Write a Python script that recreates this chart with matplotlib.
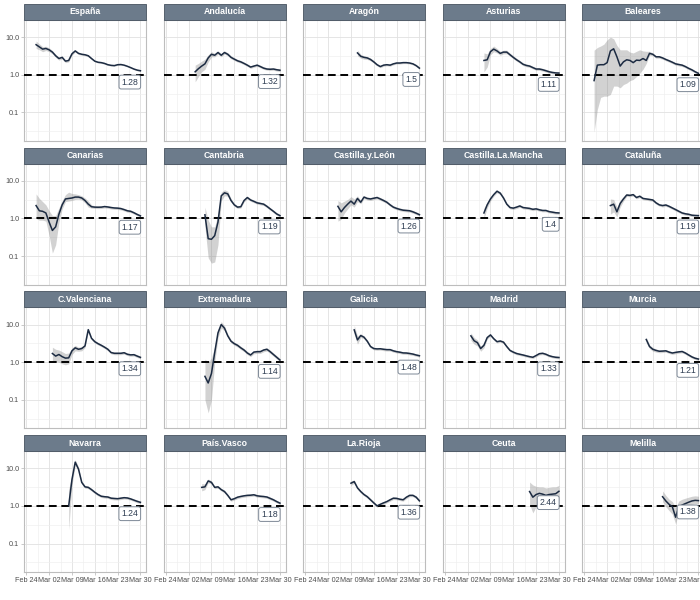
import matplotlib
matplotlib.use("Agg")
import matplotlib.pyplot as plt
import matplotlib.dates as mdates
from matplotlib.patches import Rectangle
from matplotlib.ticker import FixedLocator, NullFormatter
import pandas as pd

plt.rcParams['font.family'] = ['Liberation Sans', 'DejaVu Sans']

# panel order (facet_wrap, 5 columns)
REGIONS = ["España", "Andalucía", "Aragón", "Asturias", "Baleares",
           "Canarias", "Cantabria", "Castilla.y.León", "Castilla.La.Mancha", "Cataluña",
           "C.Valenciana", "Extremadura", "Galicia", "Madrid", "Murcia",
           "Navarra", "País.Vasco", "La.Rioja", "Ceuta", "Melilla"]

# first date of each estimated series (daily values follow)
FIRST_DAY = {
    "España": "2020-02-27", "Andalucía": "2020-03-04", "Aragón": "2020-03-11",
    "Asturias": "2020-03-07", "Baleares": "2020-02-27", "Canarias": "2020-02-27",
    "Cantabria": "2020-03-07", "Castilla.y.León": "2020-03-05",
    "Castilla.La.Mancha": "2020-03-07", "Cataluña": "2020-03-03",
    "C.Valenciana": "2020-03-03", "Extremadura": "2020-03-07", "Galicia": "2020-03-10",
    "Madrid": "2020-03-03", "Murcia": "2020-03-14", "Navarra": "2020-03-08",
    "País.Vasco": "2020-03-06", "La.Rioja": "2020-03-09", "Ceuta": "2020-03-21",
    "Melilla": "2020-03-19",
}

R_MEAN = {
    "España": [6.3, 5.5, 4.8, 5.0, 4.6, 4.0, 3.2, 2.7, 2.9, 2.3, 2.4, 3.6, 4.3, 3.7, 3.5, 3.4, 3.2,
               2.7, 2.3, 2.15, 2.1, 2.0, 1.85, 1.78, 1.75, 1.85, 1.87, 1.8, 1.68, 1.55, 1.42, 1.33, 1.28],
    "Andalucía": [1.2, 1.45, 1.7, 1.95, 2.8, 3.5, 3.3, 3.9, 3.3, 3.9, 3.5, 2.9, 2.6, 2.35, 2.2, 2.0,
                  1.8, 1.6, 1.7, 1.8, 1.65, 1.5, 1.42, 1.4, 1.42, 1.36, 1.32],
    "Aragón": [3.8, 3.1, 2.9, 2.8, 2.55, 2.2, 1.85, 1.65, 1.8, 1.85, 1.8, 1.95, 2.05, 2.05, 2.1,
               2.1, 2.05, 1.95, 1.75, 1.5],
    "Asturias": [2.4, 2.5, 4.1, 4.8, 4.3, 3.7, 4.0, 4.0, 3.4, 2.9, 2.5, 2.2, 1.9, 1.77, 1.7, 1.55,
                 1.42, 1.42, 1.36, 1.28, 1.2, 1.15, 1.12, 1.11],
    "Baleares": [0.7, 1.8, 1.85, 1.85, 2.1, 4.3, 4.9, 3.0, 1.7, 2.2, 2.5, 2.4, 2.1, 2.45, 2.4, 2.7,
                 2.4, 3.7, 3.5, 3.0, 3.0, 2.8, 2.55, 2.35, 2.15, 1.95, 1.87, 1.8, 1.65, 1.48, 1.35,
                 1.2, 1.09],
    "Canarias": [2.2, 1.6, 1.55, 1.4, 0.8, 0.48, 0.6, 1.3, 2.3, 3.3, 3.4, 3.5, 3.7, 3.7, 3.5, 3.0,
                 2.4, 2.05, 2.0, 1.99, 2.0, 2.07, 2.02, 1.95, 1.9, 1.88, 1.83, 1.72, 1.6, 1.55, 1.42,
                 1.28, 1.17],
    "Cantabria": [1.25, 0.29, 0.28, 0.35, 0.8, 4.0, 4.8, 4.5, 3.0, 2.3, 2.0, 2.05, 3.0, 3.6, 3.1,
                  2.85, 2.6, 2.5, 2.4, 2.1, 1.8, 1.55, 1.32, 1.19],
    "Castilla.y.León": [2.1, 1.5, 1.95, 2.4, 2.9, 2.4, 3.4, 2.7, 3.7, 3.4, 3.3, 3.45, 3.6, 3.3, 3.0,
                        2.7, 2.3, 2.0, 1.85, 1.74, 1.66, 1.63, 1.6, 1.5, 1.38, 1.26],
    "Castilla.La.Mancha": [1.4, 2.3, 3.3, 4.3, 5.3, 4.7, 3.5, 2.4, 1.95, 1.88, 2.0, 2.15, 1.95, 1.9,
                           1.85, 1.75, 1.8, 1.7, 1.63, 1.63, 1.52, 1.47, 1.42, 1.4],
    "Cataluña": [2.2, 2.4, 1.5, 2.5, 3.3, 4.2, 4.1, 4.3, 3.6, 3.9, 3.4, 3.3, 3.2, 3.1, 2.6, 2.3, 2.2,
                 2.28, 2.1, 1.9, 1.72, 1.55, 1.4, 1.33, 1.29, 1.22, 1.2, 1.19],
    "C.Valenciana": [1.7, 1.45, 1.6, 1.4, 1.28, 1.3, 2.0, 2.4, 2.2, 2.3, 2.7, 7.3, 4.3, 3.5, 3.1, 2.8,
                     2.5, 2.2, 1.8, 1.72, 1.72, 1.72, 1.78, 1.62, 1.56, 1.58, 1.45, 1.34],
    "Extremadura": [0.42, 0.28, 0.5, 1.8, 6.0, 10.0, 8.0, 5.0, 3.6, 3.1, 2.8, 2.4, 2.1, 1.75, 1.55,
                    1.85, 1.9, 1.9, 2.1, 2.2, 1.9, 1.6, 1.35, 1.14],
    "Galicia": [7.2, 3.9, 5.1, 4.6, 3.6, 2.6, 2.3, 2.25, 2.27, 2.2, 2.15, 2.15, 2.0, 1.9, 1.84, 1.76,
                1.75, 1.7, 1.64, 1.55, 1.48],
    "Madrid": [5.0, 3.7, 3.3, 2.3, 2.8, 4.5, 5.3, 4.2, 3.5, 3.65, 3.4, 2.6, 2.05, 1.85, 1.7, 1.62,
               1.55, 1.47, 1.4, 1.35, 1.5, 1.68, 1.72, 1.62, 1.48, 1.4, 1.35, 1.33],
    "Murcia": [4.0, 2.6, 2.2, 2.05, 1.95, 1.97, 2.0, 1.85, 1.75, 1.82, 1.88, 1.92, 1.75, 1.55, 1.38,
               1.27, 1.21],
    "Navarra": [1.0, 5.0, 14.5, 9.5, 4.2, 3.2, 3.1, 2.7, 2.3, 2.0, 1.8, 1.75, 1.72, 1.6, 1.57, 1.55,
                1.6, 1.65, 1.62, 1.53, 1.42, 1.32, 1.24],
    "País.Vasco": [3.1, 3.2, 4.6, 4.2, 3.1, 3.2, 2.7, 2.4, 1.9, 1.45, 1.55, 1.7, 1.78, 1.85, 1.9,
                   1.92, 1.97, 1.85, 1.8, 1.77, 1.72, 1.58, 1.45, 1.3, 1.18],
    "La.Rioja": [4.0, 4.4, 3.0, 2.4, 2.0, 1.75, 1.45, 1.2, 1.0, 1.1, 1.2, 1.3, 1.45, 1.6, 1.58, 1.5,
                 1.45, 1.7, 1.9, 1.9, 1.7, 1.36],
    "Ceuta": [2.4, 1.7, 2.0, 2.15, 2.05, 1.9, 2.0, 2.05, 2.1, 2.44],
    "Melilla": [1.75, 1.35, 1.1, 0.95, 0.5, 0.95, 1.05, 1.15, 1.25, 1.35, 1.4, 1.38],
}

R_LOW = {
    "España": [5.0, 4.6, 4.1, 4.4, 4.1, 3.6, 2.9, 2.45, 2.65, 2.1, 2.2, 3.3, 4.0, 3.45, 3.3, 3.2, 3.0,
               2.55, 2.2, 2.05, 2.0, 1.9, 1.77, 1.7, 1.68, 1.78, 1.8, 1.73, 1.62, 1.49, 1.36, 1.27, 1.22],
    "Andalucía": [0.65, 0.9, 1.2, 1.4, 2.2, 3.0, 3.0, 3.5, 3.0, 3.55, 3.2, 2.65, 2.4, 2.17, 2.03, 1.85,
                  1.67, 1.48, 1.58, 1.67, 1.53, 1.39, 1.32, 1.3, 1.32, 1.26, 1.22],
    "Aragón": [3.2, 2.75, 2.6, 2.55, 2.35, 2.03, 1.72, 1.54, 1.68, 1.73, 1.69, 1.83, 1.93, 1.93, 1.98,
               1.98, 1.93, 1.83, 1.64, 1.4],
    "Asturias": [1.2, 1.6, 3.4, 4.1, 3.8, 3.3, 3.6, 3.6, 3.1, 2.65, 2.3, 2.02, 1.75, 1.63, 1.57, 1.43,
                 1.31, 1.31, 1.25, 1.18, 1.1, 1.06, 1.03, 1.02],
    "Baleares": [0.03, 0.12, 0.25, 0.27, 0.27, 0.3, 0.5, 0.5, 0.45, 0.55, 0.6, 0.7, 0.75, 0.9, 1.1,
                 1.4, 2.0, 3.3, 3.2, 2.75, 2.75, 2.57, 2.35, 2.16, 1.98, 1.79, 1.72, 1.65, 1.52, 1.36,
                 1.24, 1.1, 1.0],
    "Canarias": [1.0, 0.9, 0.9, 0.85, 0.35, 0.12, 0.2, 0.8, 1.8, 2.8, 2.9, 3.0, 3.2, 3.25, 3.1, 2.6,
                 2.0, 1.88, 1.84, 1.83, 1.84, 1.9, 1.86, 1.79, 1.75, 1.73, 1.68, 1.58, 1.47, 1.43, 1.31,
                 1.18, 1.08],
    "Cantabria": [0.6, 0.09, 0.065, 0.07, 0.2, 3.0, 4.0, 3.9, 2.7, 2.1, 1.84, 1.89, 2.76, 3.3, 2.85,
                  2.62, 2.39, 2.3, 2.2, 1.93, 1.66, 1.43, 1.21, 1.09],
    "Castilla.y.León": [0.85, 0.95, 1.4, 1.8, 2.3, 2.0, 2.8, 2.45, 3.35, 3.1, 3.0, 3.15, 3.3, 3.02,
                        2.75, 2.48, 2.11, 1.84, 1.7, 1.6, 1.53, 1.5, 1.47, 1.38, 1.27, 1.16],
    "Castilla.La.Mancha": [1.0, 1.9, 2.9, 3.9, 4.8, 4.3, 3.2, 2.2, 1.79, 1.73, 1.84, 1.98, 1.79, 1.75,
                           1.7, 1.61, 1.66, 1.56, 1.5, 1.5, 1.4, 1.35, 1.31, 1.29],
    "Cataluña": [1.3, 1.5, 1.1, 2.0, 2.9, 3.85, 3.77, 3.96, 3.31, 3.59, 3.13, 3.04, 2.94, 2.85, 2.39,
                 2.12, 2.02, 2.1, 1.93, 1.75, 1.58, 1.43, 1.29, 1.22, 1.19, 1.12, 1.1, 1.09],
    "C.Valenciana": [1.1, 1.05, 1.0, 0.9, 0.85, 0.9, 1.6, 2.0, 1.95, 2.0, 2.45, 6.7, 3.95, 3.22, 2.85,
                     2.58, 2.3, 2.02, 1.66, 1.58, 1.58, 1.58, 1.64, 1.49, 1.44, 1.45, 1.33, 1.23],
    "Extremadura": [0.1, 0.045, 0.1, 1.0, 4.5, 8.0, 7.0, 4.5, 3.25, 2.8, 2.52, 2.16, 1.9, 1.58, 1.4,
                    1.67, 1.71, 1.71, 1.89, 1.98, 1.71, 1.44, 1.22, 1.03],
    "Galicia": [5.5, 3.0, 4.5, 4.2, 3.3, 2.39, 2.12, 2.07, 2.09, 2.02, 1.98, 1.98, 1.84, 1.75, 1.69,
                1.62, 1.61, 1.56, 1.51, 1.43, 1.36],
    "Madrid": [3.8, 3.0, 2.7, 1.95, 2.4, 4.1, 4.9, 3.9, 3.24, 3.38, 3.15, 2.4, 1.9, 1.71, 1.57, 1.5,
               1.43, 1.36, 1.3, 1.25, 1.39, 1.55, 1.59, 1.5, 1.37, 1.3, 1.25, 1.23],
    "Murcia": [3.3, 2.3, 1.95, 1.85, 1.78, 1.8, 1.84, 1.7, 1.61, 1.67, 1.73, 1.77, 1.61, 1.43, 1.27,
               1.17, 1.11],
    "Navarra": [0.23, 3.5, 12.0, 8.5, 3.8, 2.94, 2.85, 2.48, 2.12, 1.84, 1.66, 1.61, 1.58, 1.47, 1.44,
                1.43, 1.47, 1.52, 1.49, 1.41, 1.31, 1.21, 1.14],
    "País.Vasco": [2.5, 2.7, 4.1, 3.85, 2.85, 2.94, 2.48, 2.2, 1.75, 1.33, 1.43, 1.56, 1.64, 1.7, 1.75,
                   1.77, 1.81, 1.7, 1.66, 1.63, 1.58, 1.45, 1.33, 1.2, 1.09],
    "La.Rioja": [3.5, 4.0, 2.75, 2.2, 1.84, 1.61, 1.33, 1.1, 0.92, 1.01, 1.1, 1.2, 1.33, 1.47, 1.45,
                 1.38, 1.33, 1.56, 1.75, 1.75, 1.56, 1.25],
    "Ceuta": [1.1, 0.65, 0.95, 1.0, 1.05, 1.1, 1.15, 1.2, 1.3, 1.4],
    "Melilla": [1.3, 0.95, 0.75, 0.6, 0.33, 0.7, 0.8, 0.9, 1.0, 1.1, 1.15, 1.15],
}

R_HIGH = {
    "España": [7.9, 6.6, 5.6, 5.7, 5.2, 4.4, 3.5, 2.95, 3.15, 2.5, 2.6, 3.9, 4.6, 3.95, 3.7, 3.6, 3.4,
               2.85, 2.4, 2.25, 2.2, 2.1, 1.93, 1.86, 1.82, 1.92, 1.94, 1.87, 1.74, 1.61, 1.48, 1.39, 1.34],
    "Andalucía": [1.8, 2.0, 2.3, 2.6, 3.4, 4.1, 3.7, 4.3, 3.65, 4.3, 3.85, 3.2, 2.85, 2.55, 2.4, 2.17,
                  1.95, 1.74, 1.84, 1.95, 1.79, 1.63, 1.54, 1.52, 1.54, 1.47, 1.43],
    "Aragón": [4.5, 3.5, 3.2, 3.07, 2.77, 2.38, 1.99, 1.77, 1.93, 1.98, 1.92, 2.08, 2.18, 2.18, 2.23,
               2.23, 2.18, 2.08, 1.87, 1.61],
    "Asturias": [3.8, 3.6, 5.0, 5.8, 5.0, 4.2, 4.5, 4.5, 3.75, 3.2, 2.75, 2.4, 2.07, 1.93, 1.85, 1.69,
                 1.55, 1.55, 1.48, 1.4, 1.31, 1.25, 1.22, 1.21],
    "Baleares": [4.5, 5.3, 5.8, 6.5, 8.5, 10.0, 9.0, 6.0, 4.6, 4.6, 4.6, 4.0, 3.8, 4.2, 4.6, 4.3, 4.2,
                 4.2, 3.8, 3.25, 3.25, 3.03, 2.75, 2.54, 2.32, 2.1, 2.02, 1.94, 1.78, 1.6, 1.46, 1.3,
                 1.18],
    "Canarias": [4.5, 3.4, 2.8, 2.3, 1.6, 1.2, 1.2, 1.9, 3.0, 4.3, 5.0, 4.6, 4.5, 4.3, 4.0, 3.5, 2.9,
                 2.3, 2.16, 2.15, 2.16, 2.24, 2.18, 2.1, 2.05, 2.03, 1.98, 1.86, 1.73, 1.67, 1.53, 1.38,
                 1.26],
    "Cantabria": [2.0, 0.9, 0.6, 0.6, 1.3, 5.0, 5.8, 5.3, 3.4, 2.5, 2.16, 2.21, 3.24, 3.9, 3.35, 3.08,
                  2.81, 2.7, 2.6, 2.27, 1.94, 1.67, 1.43, 1.29],
    "Castilla.y.León": [3.0, 2.6, 2.9, 3.2, 3.8, 3.3, 4.0, 3.0, 4.05, 3.7, 3.6, 3.76, 3.92, 3.6, 3.27,
                        2.94, 2.5, 2.18, 2.02, 1.9, 1.81, 1.78, 1.74, 1.64, 1.5, 1.37],
    "Castilla.La.Mancha": [1.9, 2.7, 3.7, 4.7, 5.8, 5.1, 3.8, 2.6, 2.11, 2.03, 2.16, 2.32, 2.11, 2.05,
                           2.0, 1.89, 1.94, 1.84, 1.76, 1.76, 1.64, 1.59, 1.53, 1.51],
    "Cataluña": [3.3, 3.2, 2.0, 3.1, 3.8, 4.6, 4.45, 4.65, 3.9, 4.2, 3.67, 3.56, 3.46, 3.35, 2.81, 2.48,
                 2.38, 2.46, 2.27, 2.05, 1.86, 1.67, 1.51, 1.44, 1.39, 1.32, 1.3, 1.29],
    "C.Valenciana": [2.5, 2.2, 2.1, 1.9, 1.7, 1.75, 2.4, 2.8, 2.5, 2.6, 3.0, 8.0, 4.65, 3.78, 3.35,
                     3.02, 2.7, 2.38, 1.94, 1.86, 1.86, 1.86, 1.92, 1.75, 1.68, 1.71, 1.57, 1.45],
    "Extremadura": [1.2, 1.0, 1.3, 2.6, 7.5, 12.0, 9.2, 5.6, 4.0, 3.4, 3.08, 2.64, 2.31, 1.93, 1.7,
                    2.03, 2.09, 2.09, 2.31, 2.42, 2.09, 1.76, 1.49, 1.25],
    "Galicia": [9.5, 5.0, 5.7, 5.0, 3.9, 2.81, 2.48, 2.43, 2.45, 2.38, 2.32, 2.32, 2.16, 2.05, 1.99,
                1.9, 1.89, 1.84, 1.77, 1.67, 1.6],
    "Madrid": [6.0, 4.5, 3.9, 2.7, 3.2, 4.9, 5.7, 4.5, 3.76, 3.92, 3.65, 2.8, 2.2, 1.99, 1.83, 1.74,
               1.67, 1.58, 1.5, 1.45, 1.61, 1.81, 1.85, 1.74, 1.59, 1.5, 1.45, 1.43],
    "Murcia": [4.6, 2.9, 2.45, 2.25, 2.12, 2.14, 2.16, 2.0, 1.89, 1.97, 2.03, 2.07, 1.89, 1.67, 1.49,
               1.37, 1.31],
    "Navarra": [2.8, 6.5, 17.0, 10.8, 4.6, 3.46, 3.35, 2.92, 2.48, 2.16, 1.94, 1.89, 1.86, 1.73, 1.7,
                1.67, 1.73, 1.78, 1.75, 1.65, 1.53, 1.43, 1.34],
    "País.Vasco": [3.9, 3.8, 5.2, 4.6, 3.35, 3.46, 2.92, 2.59, 2.05, 1.57, 1.67, 1.84, 1.92, 2.0, 2.05,
                   2.07, 2.13, 2.0, 1.94, 1.91, 1.86, 1.71, 1.57, 1.4, 1.27],
    "La.Rioja": [4.6, 4.9, 3.25, 2.6, 2.16, 1.89, 1.57, 1.3, 1.08, 1.19, 1.3, 1.4, 1.57, 1.73, 1.71,
                 1.62, 1.57, 1.84, 2.05, 2.05, 1.84, 1.47],
    "Ceuta": [4.3, 3.6, 3.3, 3.2, 3.2, 3.0, 3.1, 3.2, 3.2, 3.5],
    "Melilla": [2.5, 1.9, 1.5, 1.3, 0.9, 1.35, 1.5, 1.6, 1.7, 1.8, 1.85, 1.8],
}

X_TICKS = ["2020-02-24", "2020-03-02", "2020-03-09", "2020-03-16", "2020-03-23", "2020-03-30"]
Y_TICKS = [0.1, 1.0, 10.0]
Y_TICK_LABELS = ["0.1", "1.0", "10.0"]

STRIP_FILL = "#6C7B8B"
LINE_COLOR = "#1C2B42"
TEXT_GREY = "#4D4D4D"

fig = plt.figure(figsize=(7, 6), dpi=100)
W, H = 700.0, 600.0

# panel geometry in pixels
x0, dx, pw = 24.0, 139.5, 122.0
y0, dy, ph = 20.0, 143.7, 121.0
strip_px = 16.0

major_x = pd.to_datetime(X_TICKS)
minor_x = [d + pd.Timedelta(hours=84) for d in major_x]
minor_y = [10 ** -1.5, 10 ** -0.5, 10 ** 0.5, 10 ** 1.5]

for i, name in enumerate(REGIONS):
    row, col = divmod(i, 5)
    left = (x0 + dx * col) / W
    bottom = 1 - (y0 + dy * row + ph) / H
    ax = fig.add_axes([left, bottom, pw / W, ph / H])

    dates = pd.date_range(FIRST_DAY[name], periods=len(R_MEAN[name]), freq="D")
    ax.fill_between(dates, R_LOW[name], R_HIGH[name], color="grey", alpha=0.35,
                    linewidth=0, zorder=2)
    ax.axhline(1.0, color="black", linewidth=1.4, linestyle=(0, (4, 2.4)), zorder=3)
    ax.plot(dates, R_MEAN[name], color=LINE_COLOR, linewidth=1.1, zorder=4)

    last = R_MEAN[name][-1]
    ax.annotate(f"{round(last, 2):g}", xy=(dates[-1], last / 2), xytext=(-1.6, 0),
                textcoords="offset points", ha="right", va="center",
                fontsize=6.2, color="#2E3D52", zorder=6, annotation_clip=False,
                bbox=dict(boxstyle="round,pad=0.28,rounding_size=0.25", fc="white",
                          ec="#7D8896", lw=0.7))

    ax.set_yscale("log")
    ax.set_ylim(0.0174, 28.5)
    ax.set_xlim(pd.Timestamp("2020-02-23 07:00"), pd.Timestamp("2020-03-31 17:00"))

    ax.set_yticks(Y_TICKS)
    ax.yaxis.set_minor_locator(FixedLocator(minor_y))
    ax.yaxis.set_minor_formatter(NullFormatter())
    ax.set_xticks(major_x)
    ax.xaxis.set_minor_locator(FixedLocator(mdates.date2num(minor_x)))
    ax.xaxis.set_major_formatter(mdates.DateFormatter("%b %d"))

    ax.grid(True, which="major", color="#E1E1E1", linewidth=0.6, zorder=0)
    ax.grid(True, which="minor", color="#EFEFEF", linewidth=0.45, zorder=0)
    ax.set_axisbelow(True)

    ax.tick_params(which="minor", length=0)
    ax.tick_params(which="major", length=2, width=0.5, color="#B3B3B3",
                   labelsize=5.2, labelcolor=TEXT_GREY, pad=1.5)
    if col == 0:
        ax.set_yticklabels(Y_TICK_LABELS)
    else:
        ax.tick_params(axis="y", which="major", length=0, labelleft=False)
    if row < 3:
        ax.tick_params(axis="x", which="major", length=0, labelbottom=False)

    for sp in ax.spines.values():
        sp.set_color("#BDBDBD")
        sp.set_linewidth(0.8)

    # facet strip
    sh = strip_px / ph
    ax.add_patch(Rectangle((0, 1), 1, sh, transform=ax.transAxes, fc=STRIP_FILL,
                           ec="#46525F", lw=0.6, clip_on=False, zorder=5))
    ax.text(0.5, 1 + sh / 2, name, transform=ax.transAxes, ha="center", va="center",
            color="white", fontsize=6.3, fontweight="bold", zorder=6)

fig.savefig("out.png", dpi=100)
